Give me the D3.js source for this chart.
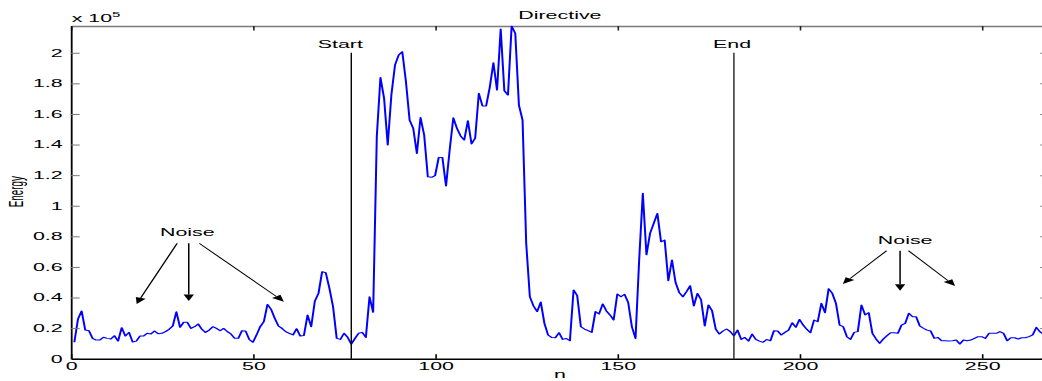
<!DOCTYPE html>
<html>
<head>
<meta charset="utf-8">
<script src="https://cdn.jsdelivr.net/npm/d3@7"></script>
<style>
  html, body { margin: 0; padding: 0; background: #fff; overflow: hidden; }
  text { font-family: "Liberation Sans", Arial, Helvetica, sans-serif; fill: #000; }
</style>
</head>
<body>
<svg id="chart" width="1042" height="381"></svg>
<script>
// Short-time energy of the recording, in units of 10^5, for frames n = 1..268
const energy = [
  0.107, 0.259, 0.312, 0.187, 0.183, 0.133, 0.122, 0.122, 0.140, 0.133,
  0.129, 0.150, 0.115, 0.203, 0.148, 0.172, 0.109, 0.115, 0.148, 0.148,
  0.166, 0.161, 0.181, 0.163, 0.166, 0.177, 0.192, 0.213, 0.307, 0.205,
  0.238, 0.238, 0.198, 0.209, 0.227, 0.192, 0.172, 0.187, 0.209, 0.198,
  0.183, 0.198, 0.177, 0.161, 0.133, 0.133, 0.183, 0.181, 0.126, 0.107,
  0.155, 0.209, 0.242, 0.355, 0.322, 0.264, 0.214, 0.198, 0.177, 0.166,
  0.155, 0.196, 0.148, 0.152, 0.285, 0.209, 0.377, 0.427, 0.569, 0.562,
  0.460, 0.340, 0.133, 0.126, 0.166, 0.140, 0.096, 0.132, 0.166, 0.172,
  0.139, 0.405, 0.303, 1.451, 1.839, 1.702, 1.397, 1.724, 1.920, 1.985,
  2.007, 1.811, 1.560, 1.506, 1.342, 1.577, 1.462, 1.190, 1.186, 1.197,
  1.316, 1.316, 1.129, 1.364, 1.575, 1.506, 1.456, 1.430, 1.556, 1.404,
  1.442, 1.735, 1.652, 1.652, 1.774, 1.935, 1.756, 2.155, 1.752, 1.724,
  2.174, 2.127, 1.658, 1.560, 0.754, 0.405, 0.345, 0.308, 0.370, 0.231,
  0.155, 0.139, 0.137, 0.170, 0.126, 0.132, 0.117, 0.449, 0.412, 0.209,
  0.194, 0.183, 0.172, 0.308, 0.292, 0.358, 0.312, 0.286, 0.253, 0.423,
  0.405, 0.421, 0.366, 0.209, 0.132, 0.645, 1.081, 0.679, 0.820, 0.885,
  0.950, 0.764, 0.775, 0.510, 0.645, 0.497, 0.432, 0.405, 0.438, 0.477,
  0.345, 0.427, 0.384, 0.214, 0.351, 0.314, 0.194, 0.161, 0.181, 0.194,
  0.177, 0.150, 0.187, 0.126, 0.139, 0.115, 0.161, 0.126, 0.115, 0.107,
  0.126, 0.117, 0.183, 0.181, 0.155, 0.172, 0.187, 0.235, 0.205, 0.257,
  0.220, 0.192, 0.170, 0.253, 0.242, 0.362, 0.301, 0.458, 0.427, 0.362,
  0.220, 0.209, 0.144, 0.126, 0.172, 0.177, 0.351, 0.286, 0.301, 0.166,
  0.129, 0.100, 0.129, 0.150, 0.170, 0.170, 0.166, 0.220, 0.231, 0.297,
  0.275, 0.275, 0.214, 0.199, 0.187, 0.181, 0.133, 0.139, 0.117, 0.117,
  0.115, 0.117, 0.122, 0.096, 0.122, 0.117, 0.122, 0.133, 0.144, 0.144,
  0.133, 0.166, 0.166, 0.166, 0.177, 0.166, 0.117, 0.137, 0.137, 0.129,
  0.137, 0.137, 0.144, 0.155, 0.205, 0.175, 0.160, 0.150
];
const frames = energy.map((_, i) => i + 1);

// Axis ticks
const xTicks = [0, 50, 100, 150, 200, 250];
const yTicks = [0, 0.2, 0.4, 0.6, 0.8, 1, 1.2, 1.4, 1.6, 1.8, 2];
const yTickLabels = ["0", "0.2", "0.4", "0.6", "0.8", "1", "1.2", "1.4", "1.6", "1.8", "2"];
const xDomain = [0, 268.5];
const yDomain = [0, 2.175];

// Segment boundaries: frame index, label, label centre frame
const boundaryFrames = [77, 182];
const boundaryLabels = ["Start", "End"];
const boundaryLabelFrames = [74.0, 181.5];
const boundaryTop = 2.0;
const boundaryLabelLevel = 2.03;

// Noise annotations: label anchor and arrows (tail -> head), in data units
const noiseLabels = [[32.0, 0.80], [229.0, 0.748]];
const noiseArrowTails = [[29.2, 0.754], [32.4, 0.754], [35.3, 0.754],
                         [223.9, 0.706], [227.6, 0.706], [229.9, 0.706]];
const noiseArrowHeads = [[18.1, 0.357], [32.4, 0.377], [58.5, 0.373],
                         [211.9, 0.488], [227.6, 0.444], [242.7, 0.475]];

// The figure is rendered at half width and stretched horizontally by 2
const SX = 2;
const svg = d3.select("#chart");
const g = svg.append("g").attr("transform", `scale(${SX},1)`);

const x = d3.scaleLinear().domain(xDomain).range([35.35, 35.35 + xDomain[1] * 1.822]);
const y = d3.scaleLinear().domain(yDomain).range([358.7, 26]);
const FS = 10.7;

// Box: top and right in grey
g.append("g")
  .attr("transform", `translate(0,${y(yDomain[1])})`)
  .call(d3.axisTop(x).tickValues(xTicks).tickSizeInner(-4.5).tickSizeOuter(0).tickFormat(""))
  .call(a => a.select(".domain").attr("stroke", "#7a7a7a").attr("stroke-width", 1.5))
  .call(a => a.selectAll(".tick line").attr("stroke", "#222").attr("stroke-width", 0.8));

g.append("g")
  .attr("transform", `translate(${x(xDomain[1])},0)`)
  .call(d3.axisRight(y).tickValues(yTicks).tickSizeInner(-4.5).tickSizeOuter(0).tickFormat(""))
  .call(a => a.select(".domain").attr("stroke", "#7a7a7a").attr("stroke-width", 0.8))
  .call(a => a.selectAll(".tick line").attr("stroke", "#888").attr("stroke-width", 1));

// Energy trace
const line = d3.line().x((d, i) => x(frames[i])).y(d => y(d));
g.append("path")
  .datum(energy)
  .attr("d", line)
  .attr("fill", "none")
  .attr("stroke", "#0000ff")
  .attr("stroke-width", 1.0)
  .attr("stroke-linejoin", "round");

// Left axis
g.append("g")
  .attr("transform", `translate(${x(0)},0)`)
  .call(d3.axisLeft(y).tickValues(yTicks).tickSizeInner(-4.5).tickSizeOuter(0).tickPadding(4)
    .tickFormat((d, i) => yTickLabels[i]))
  .call(a => a.select(".domain").attr("stroke", "#000").attr("stroke-width", 0.9))
  .call(a => a.selectAll(".tick line").attr("stroke", "#777").attr("stroke-width", 1))
  .call(a => a.selectAll(".tick text")
    .attr("font-family", "Liberation Sans, Arial, sans-serif")
    .attr("font-size", FS).attr("fill", "#000"));

// Bottom axis
g.append("g")
  .attr("transform", `translate(0,${y(0)})`)
  .call(d3.axisBottom(x).tickValues(xTicks).tickSizeInner(-4.5).tickSizeOuter(0).tickPadding(3.3)
    .tickFormat(d3.format("d")))
  .call(a => a.select(".domain").attr("stroke", "#000").attr("stroke-width", 1.6))
  .call(a => a.selectAll(".tick line").attr("stroke", "#000").attr("stroke-width", 0.8))
  .call(a => a.selectAll(".tick text")
    .attr("font-family", "Liberation Sans, Arial, sans-serif")
    .attr("font-size", FS).attr("fill", "#000"));

// Exponent label
const expo = g.append("text").attr("x", 35.85).attr("y", 21.7).attr("font-size", FS);
expo.append("tspan").text("x 10");
expo.append("tspan").attr("dy", -4.5).attr("font-size", 7.5).text("5");

// Axis titles
g.append("text")
  .attr("transform", `translate(11.65,191.7) rotate(-90)`)
  .attr("text-anchor", "middle")
  .attr("font-size", 9.8)
  .text("Energy");

g.append("text")
  .attr("x", (x(xDomain[0]) + x(xDomain[1])) / 2)
  .attr("y", 378.3)
  .attr("text-anchor", "middle")
  .attr("font-size", FS)
  .text("n");

g.append("text")
  .attr("x", (x(xDomain[0]) + x(xDomain[1])) / 2)
  .attr("y", 19.3)
  .attr("text-anchor", "middle")
  .attr("font-size", FS)
  .text("Directive");

// Start / End boundaries
boundaryFrames.forEach((f, i) => {
  g.append("line")
    .attr("x1", x(f)).attr("x2", x(f))
    .attr("y1", y(boundaryTop)).attr("y2", y(0))
    .attr("stroke", i === 0 ? "#000" : "#222")
    .attr("stroke-width", 0.7);
  g.append("text")
    .attr("x", x(boundaryLabelFrames[i]))
    .attr("y", y(boundaryLabelLevel))
    .attr("text-anchor", "middle")
    .attr("font-size", FS)
    .text(boundaryLabels[i]);
});

// Noise labels with arrows
noiseLabels.forEach(([n, v]) => {
  g.append("text")
    .attr("x", x(n)).attr("y", y(v))
    .attr("text-anchor", "middle")
    .attr("font-size", FS)
    .text("Noise");
});

const headLen = 6.5, headHalf = 2.6;
noiseArrowTails.forEach((t, i) => {
  const h = noiseArrowHeads[i];
  const x0 = x(t[0]), y0 = y(t[1]), x1 = x(h[0]), y1 = y(h[1]);
  const len = Math.hypot(x1 - x0, y1 - y0);
  const ux = (x1 - x0) / len, uy = (y1 - y0) / len;
  const bx = x1 - ux * headLen, by = y1 - uy * headLen;
  g.append("line")
    .attr("x1", x0).attr("y1", y0).attr("x2", bx).attr("y2", by)
    .attr("stroke", "#000").attr("stroke-width", 0.75);
  g.append("path")
    .attr("d", `M${x1},${y1}L${bx - uy * headHalf},${by + ux * headHalf}L${bx + uy * headHalf},${by - ux * headHalf}Z`)
    .attr("fill", "#000");
});
</script>
</body>
</html>
